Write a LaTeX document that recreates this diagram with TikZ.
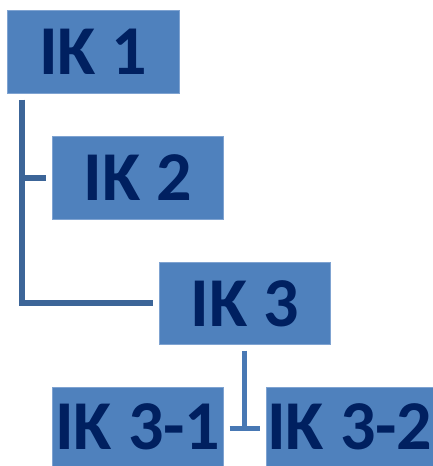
\documentclass[tikz,border=0pt]{standalone}
\usepackage{fontspec}
\setmainfont{Carlito}
\usetikzlibrary{calc}
\definecolor{boxblue}{HTML}{4F81BD}
\definecolor{boxedge}{HTML}{7FA3D1}
\definecolor{labelnavy}{HTML}{002060}
\definecolor{linkdark}{HTML}{3C6598}
\definecolor{linklight}{HTML}{4878B4}
\begin{document}
\begin{tikzpicture}[x=1pt,y=1pt,
  unit/.style={rectangle, fill=boxblue, draw=boxedge, line width=0.6pt,
    inner sep=0pt, anchor=north west, text=labelnavy,
    font=\fontsize{70}{70}\selectfont\bfseries},
  trunk/.style={draw=linkdark, line width=6pt, line join=miter},
  branch/.style={draw=linklight, line width=5pt}]
\useasboundingbox (0,0) rectangle (433,-466);
\fill[white] (0,0) rectangle (433,-466);

\node[unit, minimum width=172pt, minimum height=83pt] (ik1) at (7,-10) {IK 1};
\node[unit, minimum width=171pt, minimum height=83pt] (ik2) at (52,-136) {IK 2};
\node[unit, minimum width=171pt, minimum height=82pt] (ik3) at (159,-262) {IK 3};
\node[unit, minimum width=171pt, minimum height=79pt] (ik31) at (52,-387) {IK 3-1};
\node[unit, minimum width=167pt, minimum height=79pt] (ik32) at (266,-387) {IK 3-2};

% left trunk from IK 1 down to IK 3, with a stub to IK 2
\coordinate (top) at ([xshift=15pt,yshift=-6pt]ik1.south west);
\draw[trunk] (top) |- ([xshift=-6pt]ik3.west);
\draw[trunk] (top |- ik2.west) -- ([xshift=-6pt]ik2.west);

% T connector below IK 3
\coordinate (tee) at ([yshift=-2pt]$(ik31.east)!.5!(ik32.west)$);
\draw[branch] ([yshift=-6pt]ik3.south) -- (tee);
\draw[branch] ([xshift=6pt]ik31.east |- tee) -- ([xshift=-6pt]ik32.west |- tee);
\end{tikzpicture}
\end{document}
